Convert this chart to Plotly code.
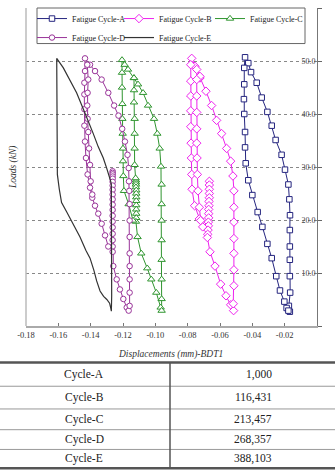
import plotly.graph_objects as go

# ---------------- data ----------------
series_names = ["Fatigue Cycle-A", "Fatigue Cycle-B", "Fatigue Cycle-C",
                "Fatigue Cycle-D", "Fatigue Cycle-E"]

a_x = [-0.0168, -0.0174, -0.0166, -0.0168, -0.0168, -0.0168, -0.0168, -0.0167, -0.0171, -0.0177,
       -0.0198, -0.0219, -0.0256, -0.0280, -0.0307, -0.0342, -0.0373, -0.0408, -0.0425, -0.0445,
       -0.0450, -0.0450, -0.0452, -0.0450, -0.0445, -0.0445, -0.0441, -0.0425, -0.0400, -0.0367,
       -0.0338, -0.0307, -0.0280, -0.0252, -0.0229, -0.0202, -0.0188, -0.0177]
a_y = [2.7, 3.8, 6.3, 9.4, 12.5, 15.0, 18.1, 20.9, 23.9, 26.7,
       29.5, 32.3, 35.1, 37.8, 40.4, 43.1, 45.9, 47.9, 49.6, 50.7,
       48.7, 45.6, 42.8, 40.0, 36.6, 33.7, 30.7, 27.5, 24.7, 21.5,
       18.7, 15.5, 12.8, 9.4, 6.7, 4.6, 3.4, 2.9]

b_x = [-0.0666, -0.0666, -0.0666, -0.0666, -0.0666, -0.0668, -0.0668, -0.0670, -0.0670, -0.0670,
       -0.0672, -0.0672, -0.0674, -0.0676, -0.0678,
       -0.0662, -0.0631, -0.0596, -0.0563, -0.0534, -0.0516,
       -0.0518, -0.0514, -0.0514, -0.0514, -0.0514, -0.0514, -0.0514, -0.0514, -0.0520, -0.0534,
       -0.0559, -0.0590, -0.0621, -0.0652, -0.0687, -0.0724, -0.0755, -0.0775,
       -0.0781, -0.0781, -0.0781, -0.0781, -0.0781, -0.0779, -0.0777, -0.0775, -0.0773, -0.0757,
       -0.0728, -0.0707,
       None,
       -0.0724, -0.0744, -0.0744, -0.0744, -0.0744, -0.0744, -0.0744, -0.0742, -0.0740, -0.0736,
       -0.0728, -0.0720]
b_y = [27.3, 26.6, 25.8, 25.0, 24.2, 23.5, 22.7, 22.0, 21.2, 20.4,
       19.6, 18.9, 18.1, 17.3, 16.7,
       14.0, 11.3, 7.9, 5.7, 4.0, 2.9,
       4.2, 7.6, 10.6, 13.7, 16.5, 19.6, 22.4, 25.5, 28.3, 31.1,
       33.5, 36.3, 38.8, 41.6, 44.3, 46.8, 49.0, 50.5,
       49.3, 46.2, 43.4, 40.6, 37.6, 34.5, 31.7, 28.6, 25.8, 22.7,
       20.2, 18.7,
       None,
       47.1, 48.4, 46.5, 43.4, 40.3, 37.2, 34.5, 31.7, 28.6, 25.5,
       22.4, 19.9]

c_x = [-0.1120, -0.1120, -0.1120, -0.1120, -0.1118, -0.1118, -0.1118, -0.1118, -0.1118, -0.1118,
       -0.1118, -0.1118, -0.1120,
       -0.1110, -0.1087, -0.1050, -0.1025, -0.0994, -0.0967, -0.0961,
       -0.0961, -0.0961, -0.0961, -0.0961, -0.0961, -0.0961, -0.0961, -0.0965, -0.0973, -0.0988,
       -0.1008, -0.1045, -0.1076, -0.1107, -0.1132, -0.1169, -0.1190, -0.1206,
       -0.1206, -0.1206, -0.1204, -0.1204, -0.1202, -0.1200, -0.1200, -0.1198, -0.1194, -0.1165,
       -0.1138,
       None,
       -0.1132, -0.1132, -0.1132, -0.1128, -0.1128, -0.1128, -0.1128, -0.1122]
c_y = [27.5, 27.1, 26.7, 26.2, 25.6, 25.0, 24.3, 23.6, 22.8, 22.0,
       21.2, 20.4, 19.7,
       16.8, 13.7, 10.9, 8.8, 6.3, 3.5, 2.9,
       5.1, 8.8, 12.5, 16.2, 19.9, 23.0, 26.7, 30.1, 33.5, 36.3,
       39.1, 41.6, 44.0, 45.6, 46.8, 48.4, 49.3, 50.2,
       47.8, 45.0, 41.9, 39.1, 36.3, 33.5, 31.1, 28.3, 25.5, 23.0,
       19.9,
       None,
       46.8, 44.5, 42.2, 39.1, 36.3, 33.5, 30.4, 27.9]

d_x = [-0.1264, -0.1264, -0.1264, -0.1264, -0.1264, -0.1264, -0.1264, -0.1264, -0.1264, -0.1264,
       -0.1264, -0.1264, -0.1264, -0.1264, -0.1264, -0.1264, -0.1264, -0.1264, -0.1264,
       -0.1260, -0.1239, -0.1219, -0.1198, -0.1177, -0.1165,
       -0.1159, -0.1159, -0.1159, -0.1159, -0.1159, -0.1159, -0.1159, -0.1159, -0.1161, -0.1163,
       -0.1165, -0.1172, -0.1188, -0.1205, -0.1228, -0.1255, -0.1291, -0.1332, -0.1373, -0.1404,
       -0.1435,
       -0.1435, -0.1439, -0.1439, -0.1439, -0.1439, -0.1435, -0.1429, -0.1419, -0.1404, -0.1390,
       -0.1373, -0.1353, -0.1332, -0.1311, -0.1291,
       None,
       -0.1421, -0.1415, -0.1419, -0.1421, -0.1419, -0.1415, -0.1410, -0.1404, -0.1400, -0.1390]
d_y = [29.2, 28.9, 28.6, 28.2, 27.8, 27.2, 26.5, 25.7, 24.8, 23.9,
       22.9, 21.9, 20.8, 19.7, 18.6, 17.4, 16.2, 15.0, 14.0,
       11.3, 8.8, 6.9, 5.1, 3.5, 2.9,
       3.8, 6.3, 8.8, 11.3, 13.7, 16.8, 19.9, 23.0, 25.5, 27.3,
       29.8, 32.3, 34.8, 37.2, 39.7, 41.6, 44.0, 46.5, 48.1, 49.3,
       50.5,
       48.1, 45.9, 43.7, 40.9, 37.8, 34.8, 31.7, 28.6, 26.1, 24.2,
       22.7, 21.2, 19.3, 17.1, 15.0,
       None,
       49.3, 46.5, 44.0, 41.6, 39.1, 36.6, 33.5, 30.4, 27.3, 24.8]

e_x = [-0.1610, -0.1610, -0.1610, -0.1610, -0.1606, -0.1594, -0.1580, -0.1548, -0.1505, -0.1466,
       -0.1430, -0.1404, -0.1380, -0.1363, -0.1342, -0.1320, -0.1300, -0.1283, -0.1276, -0.1274,
       -0.1272, -0.1270, -0.1270, -0.1270, -0.1272, -0.1276, -0.1285, -0.1301, -0.1322, -0.1353,
       -0.1384, -0.1415, -0.1445, -0.1487, -0.1528, -0.1569, -0.1610]
e_y = [50.5, 45.9, 39.7, 33.5, 28.6, 25.8, 23.3, 21.5, 18.9, 16.8,
       14.3, 12.8, 10.5, 8.5, 6.6, 5.6, 5.0, 4.3, 3.4, 2.8,
       2.8, 5.7, 15.0, 24.8, 26.7, 27.3, 28.3, 29.8, 31.7, 33.8,
       36.3, 38.5, 40.9, 44.0, 46.5, 48.7, 50.5]

x_tick_vals = [-0.18, -0.16, -0.14, -0.12, -0.10, -0.08, -0.06, -0.04, -0.02, 0.00]
x_tick_text = ["-0.18", "-0.16", "-0.14", "-0.12", "-0.10", "-0.08", "-0.06", "-0.04", "-0.02", "0.00"]
y_tick_vals = [0, 10, 20, 30, 40, 50, 60]
y_tick_text = ["0.0", "10.0", "20.0", "30.0", "40.0", "50.0", "60.0"]

x_title = "Displacements (mm)-BDT1"
y_title = "Loads (kN)"

table_cycles = ["Cycle-A", "Cycle-B", "Cycle-C", "Cycle-D", "Cycle-E"]
table_counts = ["1,000", "116,431", "213,457", "268,357", "388,103"]

# ---------------- layout geometry ----------------
W, H = 335, 472
L, R, T, B = 26, 317, 4, 326
SERIF = "Liberation Serif"


def px_x(px):
    return (px - L) / (R - L)


def px_y(py):
    return (B - py) / (B - T)


fig = go.Figure()

styles = [
    dict(color="#25257f", symbol="square", size=5.5),
    dict(color="#ee22ee", symbol="diamond", size=6.5),
    dict(color="#2f952f", symbol="triangle-up", size=6.5),
    dict(color="#993399", symbol="circle", size=5.5),
]
legend_of = ["legend", "legend2", "legend3", "legend", "legend2"]
xs = [a_x, b_x, c_x, d_x]
ys = [a_y, b_y, c_y, d_y]
for i in range(4):
    st = styles[i]
    fig.add_trace(go.Scatter(
        x=xs[i], y=ys[i], name=series_names[i], mode="lines+markers",
        line=dict(color=st["color"], width=1),
        marker=dict(symbol=st["symbol"], size=st["size"], color="white",
                    line=dict(color=st["color"], width=1)),
        connectgaps=False, legend=legend_of[i],
    ))

fig.add_trace(go.Scatter(
    x=e_x, y=e_y, name=series_names[4], mode="lines",
    line=dict(color="#333333", width=1.2), legend=legend_of[4],
))


def legend_at(px):
    return dict(
        orientation="v", x=px_x(px), y=px_y(0), xanchor="left", yanchor="top",
        xref="paper", yref="paper",
        bgcolor="rgba(0,0,0,0)", borderwidth=0,
        font=dict(family=SERIF, size=8, color="#222222"),
        itemwidth=30, tracegroupgap=0,
    )


fig.update_layout(
    width=W, height=H,
    margin=dict(l=L, r=W - R, t=T, b=H - B, pad=0),
    paper_bgcolor="white", plot_bgcolor="white",
    font=dict(family=SERIF, size=8, color="#333333"),
    showlegend=True,
    legend=legend_at(32),
    legend2=legend_at(119),
    legend3=legend_at(210),
    xaxis=dict(
        range=[-0.18, 0.0], tickvals=x_tick_vals, ticktext=x_tick_text,
        ticks="inside", ticklen=3, tickcolor="#777777",
        showline=True, linecolor="#aaaaaa", linewidth=1.5,
        showgrid=False, zeroline=False,
        tickfont=dict(family=SERIF, size=8.5, color="#333333"),
    ),
    yaxis=dict(
        range=[0, 60], side="right", tickvals=y_tick_vals, ticktext=y_tick_text,
        ticklabelposition="inside", ticks="outside", ticklen=4, tickcolor="#666666",
        showline=True, linecolor="#777777", linewidth=1,
        showgrid=True, gridcolor="#888888", griddash="dot", gridwidth=1,
        zeroline=False,
        tickfont=dict(family=SERIF, size=8, color="#444444"),
    ),
)

shapes = []
# legend frame (white box over the grid)
shapes.append(dict(type="rect", xref="paper", yref="paper", layer="between",
                   x0=px_x(37), x1=px_x(305), y0=px_y(40), y1=px_y(4),
                   fillcolor="white", line=dict(color="#666666", width=1)))
# left frame line of plot area
shapes.append(dict(type="line", xref="paper", yref="paper", x0=0, x1=0, y0=0, y1=1,
                   line=dict(color="#bbbbbb", width=1.5)))

# table lines
tx0, tx1 = px_x(0), px_x(W)
row_lines = [363, 387, 410, 431, 451, 470]
for k, py in enumerate(row_lines):
    thick = k in (0, len(row_lines) - 1)
    shapes.append(dict(type="line", xref="paper", yref="paper",
                       x0=tx0, x1=tx1, y0=px_y(py), y1=px_y(py),
                       line=dict(color="#555555" if thick else "#999999",
                                 width=2.5 if thick else 1)))
shapes.append(dict(type="line", xref="paper", yref="paper",
                   x0=px_x(170), x1=px_x(170), y0=px_y(363), y1=px_y(470),
                   line=dict(color="#555555", width=1.5)))
fig.update_layout(shapes=shapes)

annotations = [
    dict(text="<i>" + x_title + "</i>", xref="paper", yref="paper",
         x=px_x(170), y=px_y(355), showarrow=False, xanchor="center", yanchor="middle",
         font=dict(family=SERIF, size=9.5, color="#333333")),
    dict(text="<i>" + y_title + "</i>", xref="paper", yref="paper",
         x=px_x(13), y=px_y(165), showarrow=False, textangle=-90,
         xanchor="center", yanchor="middle",
         font=dict(family=SERIF, size=9.5, color="#333333")),
]
for k in range(len(table_cycles)):
    cy = (row_lines[k] + row_lines[k + 1]) / 2
    annotations.append(dict(text=table_cycles[k], xref="paper", yref="paper",
                            x=px_x(84), y=px_y(cy), showarrow=False,
                            xanchor="center", yanchor="middle",
                            font=dict(family=SERIF, size=11.5, color="#222222")))
    annotations.append(dict(text=table_counts[k], xref="paper", yref="paper",
                            x=px_x(274), y=px_y(cy), showarrow=False,
                            xanchor="right", yanchor="middle",
                            font=dict(family=SERIF, size=11.5, color="#222222")))
fig.update_layout(annotations=annotations)

fig.write_html("out.html")
